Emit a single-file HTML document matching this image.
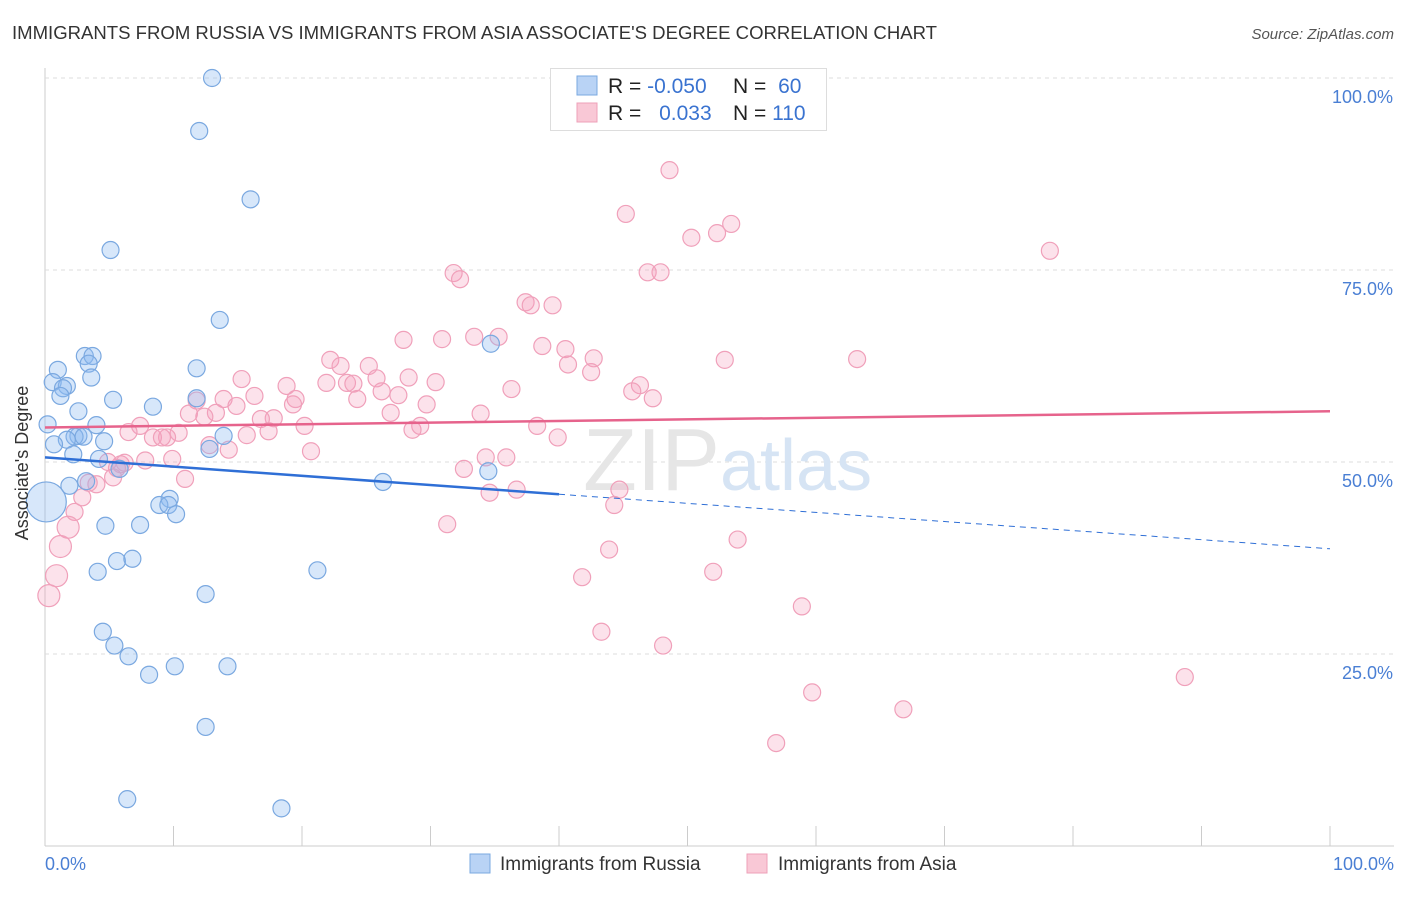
<!DOCTYPE html>
<html><head><meta charset="utf-8"><style>
body{margin:0;background:#fff;font-family:"Liberation Sans",sans-serif;}
svg text{font-family:"Liberation Sans",sans-serif;}
</style></head><body>
<svg width="1406" height="892" xmlns="http://www.w3.org/2000/svg">
<text x="12" y="39" font-size="18" fill="#333" textLength="925" lengthAdjust="spacingAndGlyphs">IMMIGRANTS FROM RUSSIA VS IMMIGRANTS FROM ASIA ASSOCIATE'S DEGREE CORRELATION CHART</text>
<text x="1394" y="39" font-size="15" fill="#555" font-style="italic" text-anchor="end">Source: ZipAtlas.com</text>
<g id="grid"></g>
<text x="720" y="490" font-size="88" fill="#e6e6e6" font-family="Liberation Serif" text-anchor="end">ZIP</text>
<text x="720" y="490" font-size="72" fill="#d6e4f4">atlas</text>
<g id="pts"></g>
<g id="lines"></g>
<text x="20" y="455" font-size="18" fill="#333" transform="rotate(-90 28 455)" text-anchor="middle">Associate's Degree</text>
<text x="45" y="870" font-size="18" fill="#4a7fd4">0.0%</text>
<text x="1394" y="870" font-size="18" fill="#4a7fd4" text-anchor="end">100.0%</text>
<g>
<rect x="550.5" y="68.5" width="276" height="62" fill="#fff" stroke="#ddd"/>
<rect x="577" y="76" width="20" height="19" fill="#b9d3f5" stroke="#7aa8e0"/>
<rect x="577" y="103" width="20" height="19" fill="#f9c8d6" stroke="#eea0b8"/>
<text x="608" y="93" font-size="21" fill="#222">R = <tspan fill="#3a73d0">-0.050</tspan></text>
<text x="733" y="93" font-size="21" fill="#222">N = <tspan fill="#3a73d0" dx="6">60</tspan></text>
<text x="608" y="120" font-size="21" fill="#222">R = <tspan fill="#3a73d0" dx="12">0.033</tspan></text>
<text x="733" y="120" font-size="21" fill="#222">N = <tspan fill="#3a73d0">110</tspan></text>
</g>
<g>
<rect x="470" y="854" width="20" height="19" fill="#b9d3f5" stroke="#7aa8e0"/>
<text x="500" y="870" font-size="19" fill="#333">Immigrants from Russia</text>
<rect x="747" y="854" width="20" height="19" fill="#f9c8d6" stroke="#eea0b8"/>
<text x="778" y="870" font-size="19" fill="#333">Immigrants from Asia</text>
</g>
</svg>
<script>
const russiaX=[13,12,16,5.1,13.6,34.7,11.8,3.1,3.7,1,3.4,3.6,0.6,1.7,1.4,1.2,5.3,8.4,2.6,11.8,0.2,4,2.6,2.3,3,1.7,4.6,13.9,0.7,12.8,2.2,4.2,5.8,34.5,26.3,3.2,1.9,0.1,9.7,8.9,9.6,10.2,4.7,7.4,5.6,6.8,4.1,21.2,12.5,4.5,5.4,6.5,10.1,8.1,14.2,12.5,6.4,18.4];
const russiaY=[100,93.1,84.2,77.6,68.5,65.4,62.2,63.8,63.8,62,62.8,61,60.4,59.9,59.6,58.6,58.1,57.2,56.6,58.3,54.9,54.8,53.4,53.3,53.3,52.9,52.7,53.4,52.3,51.7,51,50.4,49.1,48.8,47.4,47.5,46.9,44.8,45.2,44.4,44.4,43.2,41.7,41.8,37.1,37.4,35.7,35.9,32.8,27.9,26.1,24.7,23.4,22.3,23.4,15.5,6.1,4.9];
const asiaX=[48.6,45.2,53.4,52.3,50.3,78.2,31.8,32.3,46.9,47.9,37.4,37.8,39.5,30.9,33.4,35.3,38.7,27.9,40.5,42.7,52.9,63.2,22.2,23,25.2,40.7,42.5,15.3,21.9,23.5,25.8,28.3,30.4,24,18.8,36.3,26.2,46.3,45.7,47.3,16.3,19.5,13.9,11.8,24.3,27.5,19.3,29.7,14.9,13.3,11.2,12.4,26.9,17.8,16.8,20.2,33.9,29.2,28.6,38.3,7.4,17.4,6.5,10.4,15.7,9.5,8.4,9.1,39.9,12.8,14.3,20.7,34.3,35.9,7.8,4.9,9.9,5.9,6.2,5.6,32.6,5.3,10.9,4,3.4,34.6,36.7,44.7,2.9,44.3,2.3,31.3,1.8,53.9,1.2,43.9,0.9,52,41.8,0.3,58.9,43.3,48.1,88.7,59.7,66.8,56.9];
const asiaY=[88,82.3,81,79.8,79.2,77.5,74.6,73.8,74.7,74.7,70.8,70.4,70.4,66,66.3,66.3,65.1,65.9,64.7,63.5,63.3,63.4,63.3,62.5,62.5,62.7,61.7,60.8,60.3,60.3,60.9,61,60.4,60.2,59.9,59.5,59.2,60,59.2,58.3,58.6,58.2,58.2,58,58.2,58.7,57.5,57.5,57.3,56.4,56.3,55.9,56.4,55.7,55.6,54.7,56.3,54.7,54.2,54.7,54.7,54,53.9,53.8,53.5,53.2,53.2,53.2,53.2,52.2,51.6,51.4,50.6,50.6,50.2,50,50.4,49.7,49.9,49.2,49.1,48,47.8,47.1,47.3,46,46.4,46.4,45.4,44.4,43.5,41.9,41.5,39.9,39,38.6,35.2,35.7,35,32.6,31.2,27.9,26.1,22,20,17.8,13.4];
const yTicks=[100,75,50,25];
const xTicks=[0,10,20,30,40,50,60,70,80,90,100];
const NS="http://www.w3.org/2000/svg";
const X=v=>45+v*12.85, Y=v=>846-v*7.68;
const grid=document.getElementById('grid');
function mk(t,a,p){const e=document.createElementNS(NS,t);for(const k in a)e.setAttribute(k,a[k]);p.appendChild(e);return e;}
let ax=mk('line',{x1:45,y1:68,x2:45,y2:846,stroke:'#ccc'},grid);


let bx=mk('line',{x1:45,y1:846,x2:1394,y2:846,stroke:'#ccc'},grid);


yTicks.forEach(t=>{
 const g=mk('line',{x1:45,x2:1394,y1:Y(t),y2:Y(t),stroke:'#ddd','stroke-dasharray':'4,4'},grid);
 
 
 const l=mk('text',{x:1393,y:Y(t)+25,'font-size':18,fill:'#4a7fd4','text-anchor':'end'},grid);
 l.textContent=t.toFixed(1)+'%';
 
 
});
xTicks.forEach(t=>{
 const g=mk('line',{x1:X(t),x2:X(t),y1:826,y2:846,stroke:'#ccc'},grid);
 
 
});
const pts=document.getElementById('pts');
asiaX.forEach((v,i)=>{
 const r=v<2?11:8.5;
 const c=mk('circle',{cx:X(v),cy:Y(asiaY[i]),r:r,fill:'rgba(245,160,190,0.3)',stroke:'#f0a0ba','stroke-width':1.2},pts);
 
 
});
russiaX.forEach((v,i)=>{
 const r=(v<0.5&&russiaY[i]<46)?20:8.5;
 const c=mk('circle',{cx:X(v),cy:Y(russiaY[i]),r:r,fill:'rgba(140,185,240,0.35)',stroke:'#7aa8e0','stroke-width':1.2},pts);
 
 
});
const ln=document.getElementById('lines');
let a=mk('line',{x1:X(0),y1:Y(50.6),x2:X(40),y2:Y(45.8),stroke:'#2f6fd6','stroke-width':2.5},ln);


let b=mk('line',{x1:X(40),y1:Y(45.8),x2:X(100),y2:Y(38.7),stroke:'#2f6fd6','stroke-width':1,'stroke-dasharray':'6,5'},ln);


let c=mk('line',{x1:X(0),y1:Y(54.5),x2:X(100),y2:Y(56.6),stroke:'#e6638c','stroke-width':2.5},ln);


</script>
</body></html>
